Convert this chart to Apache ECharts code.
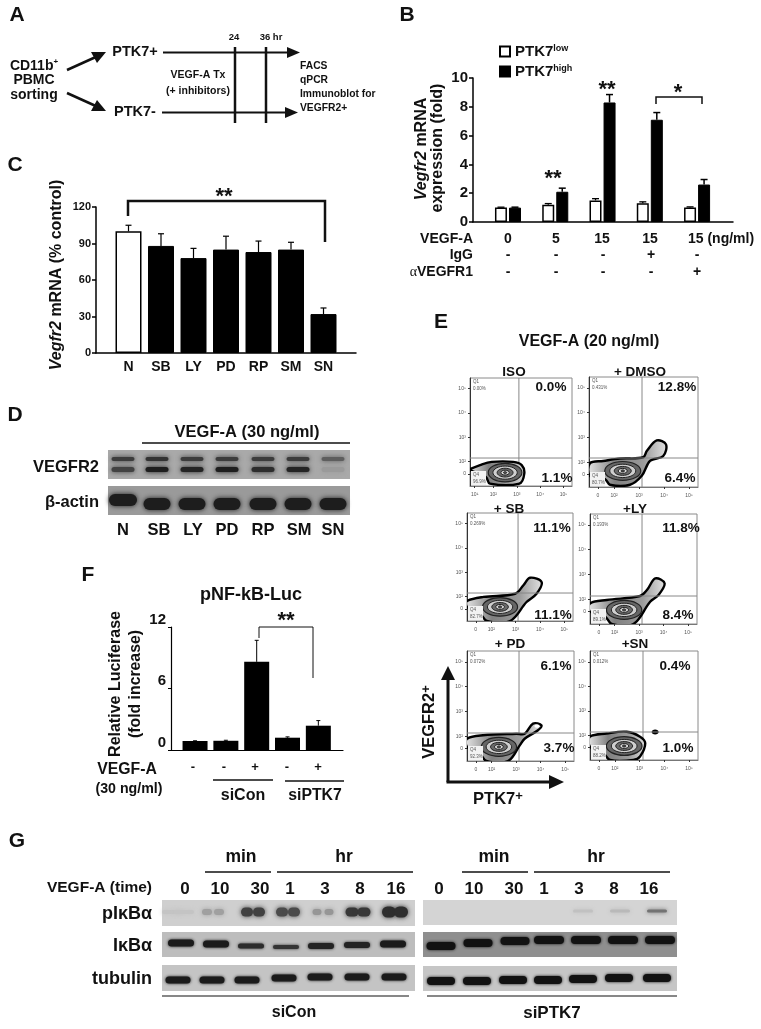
<!DOCTYPE html>
<html><head><meta charset="utf-8">
<style>html,body{margin:0;padding:0;background:#fff}#c{width:761px;height:1029px}</style>
<script src="https://cdn.jsdelivr.net/npm/echarts@6/dist/echarts.min.js"></script>
</head><body><div id="c"></div>
<script>
// ---------- Panel B values
const bDose=['0','5','15','15','15'];
const bIgG=['-','-','-','+','-'];
const bAnti=['-','-','-','-','+'];
const ptk7Low=[1.0,1.2,1.5,1.3,1.0];
const ptk7LowErr=[0.03,0.08,0.12,0.1,0.05];
const ptk7High=[1.0,2.1,8.3,7.1,2.6];
const ptk7HighErr=[0.03,0.25,0.55,0.5,0.35];
// ---------- Panel C values
const cNames=['N','SB','LY','PD','RP','SM','SN'];
const cValues=[100,88,78,85,83,85,32];
const cErr=[5,10,8,11,9,6,5];
// ---------- Panel F values
const fValues=[0.88,0.9,8.6,1.2,2.37];
const fErr=[0.02,0.05,2.1,0.08,0.5];
const fSigns=['-','-','+','-','+'];
// ---------- Panel E values (log decades)
const eTitles=['ISO','+ DMSO','+ SB','+LY','+ PD','+SN'];
const eUpper=['0.0%','12.8%','11.1%','11.8%','6.1%','0.4%'];
const eLower=['1.1%','6.4%','11.1%','8.4%','3.7%','1.0%'];
const eQ1=['0.00%','0.431%','0.269%','0.193%','0.072%','0.012%'];
const eQ4=['96.9%','80.7%','82.7%','89.1%','92.3%','88.2%'];
const eGateX=[3.09,3.12,3.10,3.12,3.12,3.14];
const eGateY=[2.15,2.17,2.15,2.13,2.13,2.14];
const eCenters=[[2.5,1.55],[2.35,1.65],[2.36,1.58],[2.39,1.57],[2.3,1.57],[2.38,1.57]];
const outlineISO=[[1,1.69],[1.43,1.86],[1.93,1.99],[2.85,1.99],[3.21,1.86],[3.32,1.51],[3.11,1.1],[1.85,1.1],[1.68,1.37],[1,1.65]];
const outlineDMSO=[[1.04,1.96],[1.57,2.05],[2.24,2.15],[3.17,2.2],[3.31,2.45],[3.71,2.88],[4.08,2.72],[3.97,2.25],[3.44,2.05],[3.11,1.45],[2.64,1.09],[1.84,1.09],[1.64,1.32],[1.04,1.45]];
const outlineSB=[[1,1.82],[1.68,1.99],[2.98,2.12],[3.32,2.47],[3.59,2.78],[4.07,2.6],[3.86,2.12],[3.45,1.78],[2.77,1],[1.82,1],[1.54,1.3],[1,1.58]];
const outlineLY=[[1,1.83],[1.68,1.97],[3.04,2.13],[3.32,2.37],[3.66,2.84],[4.04,2.64],[3.79,2.17],[3.45,1.9],[2.77,1],[1.89,1],[1.61,1.3],[1,1.5]];
const outlinePD=[[1,1.9],[1.65,2.04],[3.01,2.1],[3.35,2.1],[3.69,2.51],[4.03,2.44],[3.89,2.24],[3.35,1.9],[3.15,1.63],[2.67,1],[1.79,1],[1.52,1.3],[1,1.57]];
const outlineSN=[[1,1.95],[1.67,2.08],[2.48,2.15],[3.02,1.95],[3.23,1.68],[3.02,1.14],[2.75,1],[1.81,1],[1.54,1.27],[1,1.54]];
const eOutlines=[outlineISO,outlineDMSO,outlineSB,outlineLY,outlinePD,outlineSN];
const eRings=[[0.72,0.38],[0.52,0.27],[0.34,0.18],[0.18,0.1],[0.07,0.04]];
const eRingFill=['#666','#cfcfcf','#6a6a6a','#dedede','#555'];
// ---------- Blot band strengths
const dUpper=[.72,.78,.72,.72,.72,.72,.5];
const dLower=[.68,.92,.88,.92,.82,.88,.1];
const dActin=[.92,.92,.92,.92,.92,.92,.92];
const gTimes=['0','10','30','1','3','8','16'];
const gPLeft=[.06,.25,.75,.7,.3,.8,.85];
const gILeft=[.95,.95,.85,.8,.9,.9,.95];
const gTLeft=[.95,.95,.95,.95,.95,.95,.95];
const gPRight=[0,0,0,0,.1,.14,.5];
const gIRight=[1,1,1,1,1,1,1];
const gTRight=[1,1,1,1,1,1,1];

// ---------- layout helpers
const FF='"Liberation Sans",Arial,sans-serif', INK='#111';
const g=[];
function T(text,x,y,size,o){o=o||{};g.push({type:'text',x:x,y:y,rotation:o.rot||0,z:20,silent:true,
  style:{text:text,fontSize:size,fontWeight:o.weight||'bold',fontFamily:FF,fill:o.fill||INK,align:o.align||'center',verticalAlign:'middle',rich:o.rich}});}
function L(x1,y1,x2,y2,w){g.push({type:'line',z:15,silent:true,shape:{x1:x1,y1:y1,x2:x2,y2:y2},style:{stroke:INK,lineWidth:w||1.5}});}
function P(pts,w){g.push({type:'polyline',z:15,silent:true,shape:{points:pts},style:{stroke:INK,lineWidth:w||1.5,fill:null}});}
function H(pts){g.push({type:'polygon',z:15,silent:true,shape:{points:pts},style:{fill:INK}});}
function blotBg(x0,x1,y0,y1,c){g.push({type:'rect',z:5,silent:true,shape:{x:x0,y:y0,width:x1-x0,height:y1-y0},style:{fill:c}});}
function band(cx,cy,w,h,i,bgLevel,blur){if(i<=0)return;const v=Math.round(bgLevel*(1-i)+18*i),c='rgb('+v+','+v+','+v+')';
  g.push({type:'rect',z:6,silent:true,shape:{x:cx-w/2,y:cy-h/2,width:w,height:h,r:h/2},style:{fill:c,shadowBlur:blur||3,shadowColor:c}});}
const sup={a:{fontSize:14,fontWeight:'bold',fontFamily:FF,fill:INK,lineHeight:16},s:{fontSize:8,fontWeight:'bold',fontFamily:FF,fill:INK,verticalAlign:'top',lineHeight:16}};

// Panel letters
[['A',17,15],['B',407,15],['C',15,165],['D',15,415],['E',441,322],['F',88,575],['G',17,841]].forEach(a=>T(a[0],a[1],a[2],21));

// ---------- Panel A
T('{a|CD11b}{s|+}',34,66,14,{rich:sup});T('PBMC',34,80,14);T('sorting',34,95,14);
L(67,70,98,56,2.5);H([[106,52],[91,52],[97,63]]);
L(67,93,98,107,2.5);H([[106,111],[91,111],[97,100]]);
T('PTK7+',135,52,14.5);T('PTK7-',135,112,14.5);
L(163,52.5,290,52.5,2.2);H([[300,52.5],[287,47],[287,58]]);
L(162,112.5,288,112.5,2.2);H([[298,112.5],[285,107],[285,118]]);
L(235,47,235,123,2.5);L(266,47,266,123,2.5);
T('24',234,37,9.5);T('36 hr',271,37,9.5);
T('VEGF-A Tx',198,75,10.5);T('(+ inhibitors)',198,91,10.5);
[['FACS',66],['qPCR',80],['Immunoblot for',94],['VEGFR2+',108]].forEach(a=>T(a[0],300,a[1],10.3,{align:'left'}));

// ---------- Panel B annotations
const bX=[508,556,603,651,697];
T('{i|Vegfr2} mRNA',422,149,16,{rot:Math.PI/2,rich:{i:{fontSize:16,fontWeight:'bold',fontStyle:'italic',fontFamily:FF,fill:INK}}});
T('expression (fold)',438,148,16,{rot:Math.PI/2});
T('VEGF-A',473,239,14,{align:'right'});T('IgG',473,255,14,{align:'right'});
T('{g|α}VEGFR1',473,272,14,{align:'right',rich:{g:{fontSize:14,fontWeight:'normal',fontFamily:'"Liberation Serif",serif',fill:INK}}});
bDose.forEach((t,i)=>{if(i<4)T(t,bX[i]-(i>1&&i<4?1:0),239,14);});
T('15 (ng/ml)',688,239,14,{align:'left'});
bIgG.forEach((t,i)=>T(t,bX[i],255,14));bAnti.forEach((t,i)=>T(t,bX[i],272,14));
T('**',553,179,22);T('**',607,90,22);T('*',678,93,22);
P([[656,104],[656,97],[702,97],[702,104]],1.5);

// ---------- Panel C annotations
T('{i|Vegfr2} mRNA (% control)',57,275,16,{rot:Math.PI/2,rich:{i:{fontSize:16,fontWeight:'bold',fontStyle:'italic',fontFamily:FF,fill:INK}}});
T('**',224,197,22);
P([[128,216],[128,201],[325,201],[325,242]],2.5);

// ---------- Panel D
const dLanes=[123,157,192,227,263,298,333];
const dLab=[123,159,193,227,263,299,333];
T('VEGF-A (30 ng/ml)',247,432,16.5);L(142,443,350,443,1.5);
blotBg(108,350,450,479,'#a9a9a9');blotBg(108,350,486,515,'#9a9a9a');
T('VEGFR2',99,467,16.5,{align:'right'});T('β-actin',99,502,16.5,{align:'right'});
dLanes.forEach((x,i)=>{band(x,459,23,4,dUpper[i],169,5);band(x,469.5,23,5,dLower[i],169,5);
  band(x,i==0?500:504,i==0?28:27,12,dActin[i],154,5);});
cNames.forEach((n,i)=>T(n,dLab[i],530,16.5));

// ---------- Panel F annotations
const fX=[193,224,255,287,318];
T('pNF-kB-Luc',251,595,18);
T('Relative Luciferase',116,684,16,{rot:Math.PI/2});T('(fold increase)',136,684,15.8,{rot:Math.PI/2});
T('**',286,621,22);P([[259,638],[259,627],[313,627],[313,678]],1);
T('VEGF-A',127,770,15.8);T('(30 ng/ml)',129,789,14.2);
fSigns.forEach((s,i)=>T(s,fX[i],767,13));
L(213,780,273,780,1.5);L(285,781,344,781,1.5);T('siCon',243,796,16);T('siPTK7',315,796,15.8);

// ---------- Panel E
const eRects=[[470,378,102,108],[589,377,109,110],[467,513,106,108],[590,514,107,110],[467,651,107,110],[590,651,108,109]];
const eTitlePos=[[514,372],[640,372],[509,509],[635,509],[510,644],[635,644]];
const eUpPos=[[551,387],[677,387],[552,528],[681,528],[556,666],[675,666]];
const eLoPos=[[557,478],[680,478],[553,615],[678,615],[559,748],[678,748]];
T('VEGF-A (20 ng/ml)',589,342,16);
eRects.forEach((r,i)=>{
  T(eTitles[i],eTitlePos[i][0],eTitlePos[i][1],13.5);
  T(eUpper[i],eUpPos[i][0],eUpPos[i][1],13.5);T(eLower[i],eLoPos[i][0],eLoPos[i][1],13.5);
  const tiny={align:'left',weight:'normal',fill:'#555'};
  g.push({type:'rect',z:12,silent:true,shape:{x:r[0]+1,y:r[1]+r[3]-15,width:15,height:14},style:{fill:'#f2f2f2'}});
  T('Q1',r[0]+3,r[1]+4,4.5,tiny);T(eQ1[i],r[0]+3,r[1]+11,4.5,tiny);
  T('Q4',r[0]+3,r[1]+r[3]-11,4.5,tiny);T(eQ4[i],r[0]+3,r[1]+r[3]-4,4.5,tiny);
});
L(448,782,448,676,3);H([[448,666],[441,680],[455,680]]);
L(446.5,782,553,782,3);H([[564,782],[549,775],[549,789]]);
const bigSup={a:{fontSize:16.5,fontWeight:'bold',fontFamily:FF,fill:INK,lineHeight:18},s:{fontSize:13,fontWeight:'bold',fontFamily:FF,fill:INK,verticalAlign:'top',lineHeight:18}};
T('{a|VEGFR2}{s|+}',429,722,16.5,{rot:Math.PI/2,rich:bigSup});
T('{a|PTK7}{s|+}',498,799,16.5,{rich:bigSup});

// ---------- Panel G
T('min',241,857,17.5);L(205,872,271,872,1.5);T('hr',344,857,17.5);L(277,872,413,872,1.5);
T('min',494,857,17.5);L(462,872,528,872,1.5);T('hr',596,857,17.5);L(534,872,670,872,1.5);
T('VEGF-A (time)',152,888,15.5,{align:'right'});
const gLabL=[185,220,260,290,325,360,396],gLabR=[439,474,514,544,579,614,649];
gTimes.forEach((t,i)=>{T(t,gLabL[i],889,17);T(t,gLabR[i],889,17);});
T('pIκBα',152,914,18,{align:'right'});T('IκBα',152,946,18,{align:'right'});T('tubulin',152,979,18,{align:'right'});
blotBg(162,415,900,926,'#cfcfcf');blotBg(162,415,932,957,'#bdbdbd');blotBg(162,415,965,991,'#c4c4c4');
blotBg(423,677,900,925,'#d4d4d4');blotBg(423,677,932,957,'#8f8f8f');blotBg(423,677,966,991,'#c6c6c6');
const pL=[178,213,253,288,323,358,395],iL=[181,216,251,286,321,357,393],tL=[178,212,247,284,320,357,394];
const iLy=[943,944,946,947,946,945,944],iLh=[7,7,5,4,6,6,7],tLy=[980,980,980,978,977,977,977];
pL.forEach((x,i)=>{const w=[20,10,12,12,9,13,14][i],h=[4,6,9,9,6,9,11][i];
  band(x-6,912,w,h,gPLeft[i],207,5);band(x+6,912,w,h,gPLeft[i],207,5);});
iL.forEach((x,i)=>band(x,iLy[i],26,iLh[i],gILeft[i],189,3));
tL.forEach((x,i)=>band(x,tLy[i],25,7,gTLeft[i],196,3));
const pR=[441,478,515,557,583,620,657],iR=[441,478,515,549,586,623,660],tR=[441,477,513,548,583,619,657];
const iRy=[946,943,941,940,940,940,940],tRy=[981,981,980,980,979,978,978];
pR.forEach((x,i)=>band(x,911,20,3,gPRight[i],212,4));
iR.forEach((x,i)=>band(x,iRy[i],i<3?29:30,8,gIRight[i],143,3));
tR.forEach((x,i)=>band(x,tRy[i],28,8,gTRight[i],198,3));
L(162,996,409,996,1.2);T('siCon',294,1013,16);L(427,996,677,996,1.2);T('siPTK7',552,1013,17);

// ---------- error bars drawn through the axes
function errSeries(xi,yi,vals,errs,off,cap,lw){
  return {type:'custom',xAxisIndex:xi,yAxisIndex:yi,z:4,silent:true,clip:false,legendHoverLink:false,
    data:vals.map((v,i)=>[i,v,v+errs[i]]),encode:{x:0,y:2},
    renderItem:function(p,api){const a=api.coord([api.value(0),api.value(1)]),b=api.coord([api.value(0),api.value(2)]),x=a[0]+off;
      return {type:'group',children:[
        {type:'line',shape:{x1:x,y1:a[1],x2:x,y2:b[1]},style:{stroke:'#000',lineWidth:lw}},
        {type:'line',shape:{x1:x-cap,y1:b[1],x2:x+cap,y2:b[1]},style:{stroke:'#000',lineWidth:lw}}]};}};
}
// ---------- flow contour series
function flowSeries(k){
  return {type:'custom',xAxisIndex:3+k,yAxisIndex:3+k,z:4,silent:true,clip:true,
    data:[eCenters[k]],encode:{x:0,y:1},
    renderItem:function(p,api){
      const c=api.coord(eCenters[k]),s=api.size([1,1]),kids=[];
      kids.push({type:'polygon',shape:{points:eOutlines[k].map(q=>api.coord(q)),smooth:0.35},
        style:{fill:{type:'linear',x:0,y:0,x2:1,y2:0,colorStops:[{offset:0,color:'#e8e8e8'},{offset:.35,color:'#808080'},{offset:.7,color:'#9b9b9b'},{offset:1,color:'#e4e4e4'}]},stroke:'#000',lineWidth:2.4}});
      eRings.forEach((r,n)=>kids.push({type:'ellipse',shape:{cx:c[0],cy:c[1],rx:r[0]*s[0],ry:r[1]*s[1]},
        style:{fill:eRingFill[n],stroke:'#222',lineWidth:n==0?1.2:1}}));
      if(k==5){const d=api.coord([3.63,2.14]);kids.push({type:'ellipse',shape:{cx:d[0],cy:d[1],rx:3.5,ry:2.5},style:{fill:'#000'}});}
      if(k==4){const d=api.coord([3.85,2.41]);kids.push({type:'ellipse',shape:{cx:d[0],cy:d[1],rx:2.5,ry:1.8},style:{fill:'#fff'}});}
      const gx=eGateX[k],gy=eGateY[k],a=api.coord([gx,1]),b=api.coord([gx,5.44]),e=api.coord([1,gy]),f=api.coord([5.36,gy]);
      kids.unshift({type:'line',shape:{x1:a[0],y1:a[1],x2:b[0],y2:b[1]},style:{stroke:'#888',lineWidth:1}});
      kids.push({type:'line',shape:{x1:e[0],y1:e[1],x2:f[0],y2:f[1]},style:{stroke:'#888',lineWidth:1}});
      return {type:'group',children:kids};
    }};
}
// ---------- grids & axes
const lab=(size)=>({fontFamily:FF,fontWeight:'bold',fontSize:size,color:INK});
const line=(w)=>({show:true,onZero:false,lineStyle:{color:'#000',width:w}});
const grids=[
 {left:473,top:78,width:260,height:144},
 {left:96,top:207,width:260,height:146},
 {left:171,top:627,width:172,height:123}];
const xAxes=[
 {gridIndex:0,type:'value',min:-0.74,max:4.76,axisLine:line(1.5),axisTick:{show:false},axisLabel:{show:false},splitLine:{show:false}},
 {gridIndex:1,type:'value',min:-1,max:7,axisLine:line(1.5),axisTick:{show:false},splitLine:{show:false},
  axisLabel:Object.assign(lab(14),{margin:7,customValues:[0,1,2,3,4,5,6],formatter:v=>cNames[v]||''})},
 {gridIndex:2,type:'value',min:-0.78,max:4.8,axisLine:line(1.2),axisTick:{show:false},axisLabel:{show:false},splitLine:{show:false}}];
const yAxes=[
 {gridIndex:0,type:'value',min:0,max:10,interval:2,axisLine:line(1.5),axisTick:{length:4,lineStyle:{color:'#000',width:1.5}},splitLine:{show:false},axisLabel:Object.assign(lab(15),{margin:5})},
 {gridIndex:1,type:'value',min:0,max:120,interval:30,axisLine:line(1.5),axisTick:{length:4,lineStyle:{color:'#000',width:1.5}},splitLine:{show:false},axisLabel:Object.assign(lab(11),{margin:5})},
 {gridIndex:2,type:'value',min:0,max:12,interval:6,axisLine:line(1.2),axisTick:{length:3,lineStyle:{color:'#000',width:1}},splitLine:{show:false},axisLabel:Object.assign(lab(15),{margin:5,verticalAlign:'bottom'})}];
const fLab=(iso,isY)=>({fontFamily:FF,fontSize:5,color:'#555',margin:isY?4:6,customValues:isY?[1.5,2,3,4,5]:[iso?1.2:1.36,2,3,4,5],
  formatter:v=>({2:'10²',3:'10³',4:'10⁴',5:'10⁵'}[v]||(iso?'10¹':'0'))});
eRects.forEach((r,k)=>{
  grids.push({left:r[0],top:r[1],width:r[2],height:r[3],show:true,borderColor:'#8a8a8a',borderWidth:1,backgroundColor:'#fff'});
  const xv=[k==0?1.2:1.36,2,3,4,5],yv=[1.5,2,3,4,5];
  xAxes.push({gridIndex:3+k,type:'value',min:1,max:5.36,axisLine:{onZero:false,lineStyle:{color:'#777',width:1}},axisTick:{length:2,customValues:xv,lineStyle:{color:'#333'}},axisLabel:fLab(k==0,false),splitLine:{show:false}});
  yAxes.push({gridIndex:3+k,type:'value',min:1,max:5.44,axisLine:{onZero:false,lineStyle:{color:'#333',width:1}},axisTick:{length:2,customValues:yv,lineStyle:{color:'#333'}},axisLabel:Object.assign(fLab(false,true),{formatter:v=>({2:'10²',3:'10³',4:'10⁴',5:'10⁵'}[v]||'0')}),splitLine:{show:false}});
});
const idx=a=>a.map((v,i)=>[i,v]);
const white={color:'#fff',borderColor:'#000',borderWidth:1.5},black={color:'#000',borderColor:'#000',borderWidth:1};
const series=[
 {name:'PTK7low',type:'bar',xAxisIndex:0,yAxisIndex:0,barWidth:12,barGap:'17%',itemStyle:white,data:idx(ptk7Low),silent:true},
 {name:'PTK7high',type:'bar',xAxisIndex:0,yAxisIndex:0,barWidth:12,barGap:'17%',itemStyle:black,data:idx(ptk7High),silent:true},
 errSeries(0,0,ptk7Low,ptk7LowErr,-7,3.5,1.3),
 errSeries(0,0,ptk7High,ptk7HighErr,7,3.5,1.5),
 {name:'Vegfr2',type:'bar',xAxisIndex:1,yAxisIndex:1,barWidth:26,silent:true,
  data:cValues.map((v,i)=>({value:[i,v],itemStyle:i==0?white:black}))},
 errSeries(1,1,cValues,cErr,0,3,1.2),
 {name:'pNF-kB-Luc',type:'bar',xAxisIndex:2,yAxisIndex:2,barWidth:25,itemStyle:{color:'#000'},data:idx(fValues),silent:true},
 errSeries(2,2,fValues,fErr,0,2,1)
];
for(let k=0;k<6;k++)series.push(flowSeries(k));

const chart=echarts.init(document.getElementById('c'),null,{renderer:'canvas'});
chart.setOption({animation:false,backgroundColor:'#fff',
 legend:{data:[{name:'PTK7low'},{name:'PTK7high'}],orient:'vertical',left:499,top:44,itemWidth:10,itemHeight:10,itemGap:5,icon:'rect',padding:0,selectedMode:false,
  formatter:n=>n=='PTK7low'?'{a|PTK7}{s|low}':'{a|PTK7}{s|high}',
  textStyle:{rich:{a:{fontFamily:FF,fontWeight:'bold',fontSize:15,color:INK,lineHeight:15},s:{fontFamily:FF,fontWeight:'bold',fontSize:9,color:INK,verticalAlign:'top',lineHeight:15}}}},
 grid:grids,xAxis:xAxes,yAxis:yAxes,series:series,graphic:{elements:g}});
</script></body></html>
